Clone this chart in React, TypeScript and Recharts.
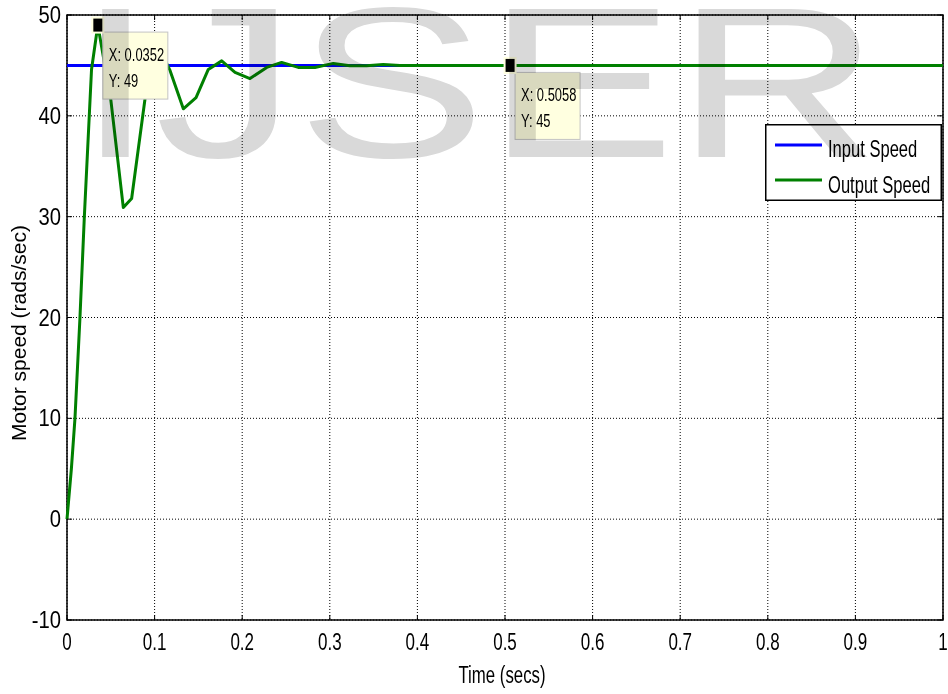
import React from "react";
import {
  CartesianGrid,
  Legend,
  Line,
  LineChart,
  ReferenceArea,
  ReferenceDot,
  XAxis,
  YAxis,
} from "recharts";

// time (s) / speed (rad/s)
const OUT_T = [
  0, 0.005, 0.0091, 0.0148, 0.0198, 0.028, 0.0352, 0.05, 0.0643, 0.0738, 0.089, 0.101,
  0.1176, 0.1328, 0.1473, 0.1613, 0.1766, 0.1918, 0.2089, 0.228, 0.245, 0.264, 0.283,
  0.304, 0.323, 0.342, 0.361, 0.38, 0.5058, 1,
];
const OUT_V = [
  0, 5, 10, 20, 30, 44.6, 49, 41.6, 30.9, 31.8, 41.65, 47.5, 44.5, 40.7, 41.8, 44.6, 45.45,
  44.3, 43.7, 44.8, 45.3, 44.8, 44.8, 45.2, 44.96, 44.96, 45.1, 45, 45, 45,
];
const IN_T = [0, 1];
const IN_V = [45, 45];

const X_TICKS = [0, 0.1, 0.2, 0.3, 0.4, 0.5, 0.6, 0.7, 0.8, 0.9, 1];
const Y_TICKS = [-10, 0, 10, 20, 30, 40, 50];

const TIP_X = [0.0352, 0.5058];
const TIP_Y = [49, 45];

const inputData = IN_T.map((t, i) => ({ t, v: IN_V[i] }));
const outputData = OUT_T.map((t, i) => ({ t, v: OUT_V[i] }));

const FONT = "'Liberation Sans', Arial, Helvetica, sans-serif";
const PLOT_TOP = 15;
const PLOT_RIGHT = 943;

const XTick = (props: any) => {
  const { x, y, payload } = props;
  return (
    <g>
      <line x1={x} x2={x} y1={y} y2={y - 5} stroke="#000" />
      <line x1={x} x2={x} y1={PLOT_TOP} y2={PLOT_TOP + 5} stroke="#000" />
      <g transform={`translate(${x},${y + 30}) scale(0.74,1)`}>
        <text x={0} y={0} textAnchor="middle" fontSize={23} fontFamily={FONT} fill="#000">
          {String(payload.value)}
        </text>
      </g>
    </g>
  );
};

const YTick = (props: any) => {
  const { x, y, payload } = props;
  return (
    <g>
      <line x1={x} x2={x + 5} y1={y} y2={y} stroke="#000" />
      <line x1={PLOT_RIGHT - 5} x2={PLOT_RIGHT} y1={y} y2={y} stroke="#000" />
      <g transform={`translate(${x - 6},${y + 8}) scale(0.88,1)`}>
        <text x={0} y={0} textAnchor="end" fontSize={23} fontFamily={FONT} fill="#000">
          {String(payload.value)}
        </text>
      </g>
    </g>
  );
};

const DataTip = ({ cx, cy, lines }: { cx: number; cy: number; lines: string[] }) => (
  <g>
    <rect x={cx + 5} y={cy + 7} width={65} height={67} fill="#ffffe0" stroke="#c4c4c4" />
    <g transform={`translate(${cx + 11},${cy + 36}) scale(0.68,1)`}>
      <text x={0} y={0} fontSize={19} fontFamily={FONT} fill="#000">
        {lines[0]}
      </text>
    </g>
    <g transform={`translate(${cx + 11},${cy + 62}) scale(0.68,1)`}>
      <text x={0} y={0} fontSize={19} fontFamily={FONT} fill="#000">
        {lines[1]}
      </text>
    </g>
    <rect x={cx - 6.5} y={cy - 8.5} width={13} height={17} fill="#ffffe0" />
    <rect x={cx - 4.5} y={cy - 6.5} width={9} height={13} fill="#000" />
  </g>
);

const LegendBox = (props: any) => {
  const items = props.payload || [];
  return (
    <svg width={177} height={77} style={{ display: "block" }}>
      <rect x={0.75} y={0.75} width={175.5} height={75.5} fill="#fff" stroke="#000" strokeWidth={1.5} />
      {items.map((it: any, i: number) => (
        <g key={it.value}>
          <line x1={10} x2={57} y1={21 + i * 35} y2={21 + i * 35} stroke={it.color} strokeWidth={3} />
          <g transform={`translate(63,${33 + i * 36}) scale(0.72,1)`}>
            <text x={0} y={0} fontSize={23} fontFamily={FONT} fill="#000">
              {it.value}
            </text>
          </g>
        </g>
      ))}
    </svg>
  );
};

export default function App() {
  return (
    <div style={{ position: "relative", width: 948, height: 694, background: "#fff" }}>
      <style>{`body{margin:0}`}</style>
      <LineChart width={948} height={694} margin={{ top: 15, right: 5, bottom: 0, left: 0 }}>
        <CartesianGrid stroke="#000" strokeDasharray="1 2" strokeWidth={1} />
        <XAxis
          dataKey="t"
          type="number"
          domain={[0, 1]}
          ticks={X_TICKS}
          interval={0}
          height={74}
          tickSize={0}
          tickMargin={0}
          tickLine={false}
          axisLine={false}
          tick={<XTick />}
          allowDuplicatedCategory={false}
          label={{
            content: () => (
              <g transform="translate(502,683) scale(0.73,1)">
                <text x={0} y={0} textAnchor="middle" fontSize={23} fontFamily={FONT} fill="#000">
                  Time (secs)
                </text>
              </g>
            ),
          }}
        />
        <YAxis
          type="number"
          domain={[-10, 50]}
          ticks={Y_TICKS}
          interval={0}
          width={67}
          tickSize={0}
          tickMargin={0}
          tickLine={false}
          axisLine={false}
          tick={<YTick />}
          label={{
            content: () => (
              <g transform="translate(26,333) rotate(-90)">
                <text x={0} y={0} textAnchor="middle" fontSize={21} fontFamily={FONT} fill="#000">
                  Motor speed (rads/sec)
                </text>
              </g>
            ),
          }}
        />
        <ReferenceArea
          x1={0}
          x2={1}
          y1={-10}
          y2={50}
          fill="none"
          fillOpacity={0}
          stroke="#000"
          strokeWidth={1.5}
        />
        <Line
          data={inputData}
          dataKey="v"
          name="Input Speed"
          type="linear"
          stroke="#0000ff"
          strokeWidth={3}
          dot={false}
          isAnimationActive={false}
        />
        <Line
          data={outputData}
          dataKey="v"
          name="Output Speed"
          type="linear"
          stroke="#008000"
          strokeWidth={3}
          strokeLinejoin="round"
          dot={false}
          isAnimationActive={false}
        />
        {TIP_X.map((tx, i) => (
          <ReferenceDot
            key={tx}
            x={tx}
            y={TIP_Y[i]}
            r={5}
            shape={(p: any) => (
              <DataTip cx={p.cx} cy={p.cy} lines={[`X: ${tx}`, `Y: ${TIP_Y[i]}`]} />
            )}
          />
        ))}
        <Legend
          layout="vertical"
          align="center"
          verticalAlign="middle"
          content={<LegendBox />}
          wrapperStyle={{ position: "absolute", left: 765, top: 124, width: 177, height: 77 }}
        />
      </LineChart>
      <svg
        width={948}
        height={694}
        style={{ position: "absolute", left: 0, top: 0, pointerEvents: "none", mixBlendMode: "multiply" }}
      >
        <g transform="translate(76,157) scale(1.32,1)">
          <text x={0} y={0} fontSize={215} fontFamily={FONT} fill="#d9d9d9">
            IJSER
          </text>
        </g>
      </svg>
    </div>
  );
}
